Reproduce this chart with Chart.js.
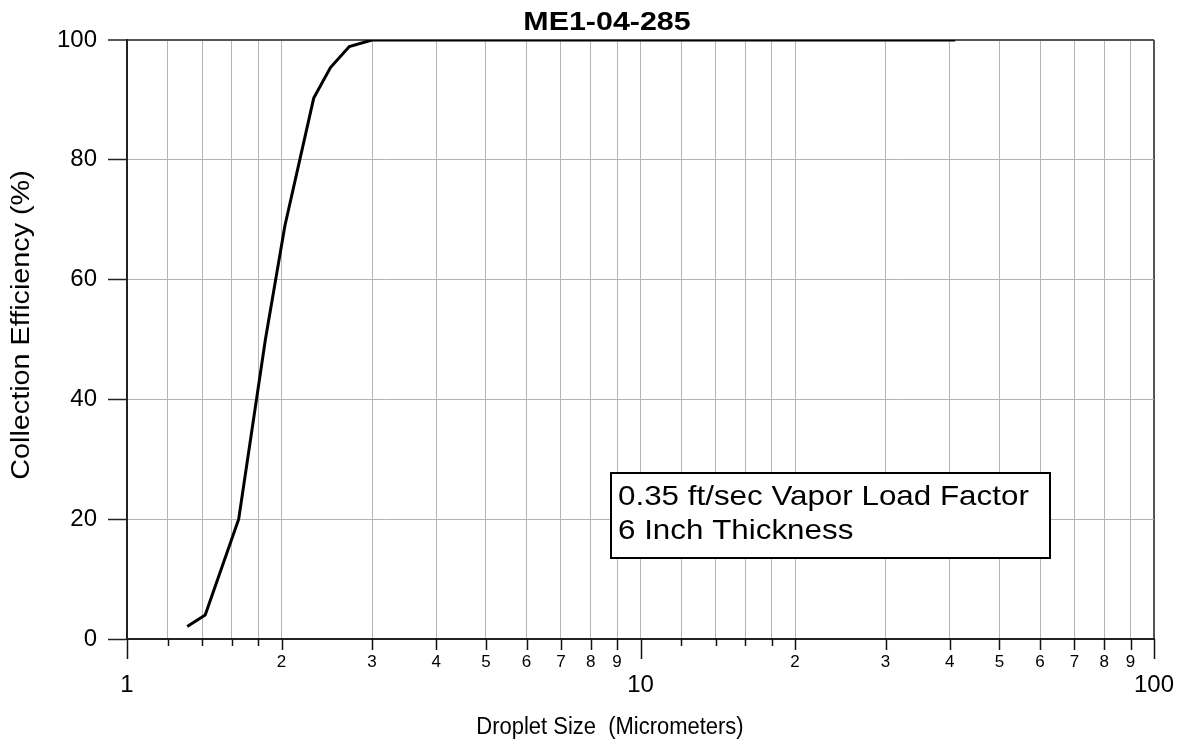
<!DOCTYPE html>
<html><head><meta charset="utf-8">
<script src="https://cdn.jsdelivr.net/npm/chart.js@4.4.1/dist/chart.umd.min.js"></script>
<style>html,body{margin:0;padding:0;background:#fff;} canvas{display:block;}</style>
</head><body>
<canvas id="c" width="1178" height="745"></canvas>
<script>
const chartTitle = 'ME1-04-285';
const xAxisTitle = 'Droplet Size  (Micrometers)';
const yAxisTitle = 'Collection Efficiency (%)';
const noteLines = ['0.35 ft/sec Vapor Load Factor', '6 Inch Thickness'];
const dropletSize = [1.31, 1.42, 1.65, 1.86, 2.03, 2.31, 2.49, 2.71, 3.0, 41];
const efficiency = [2.1, 4.0, 20, 50, 69, 90.3, 95.4, 98.9, 100, 100];
const xTickValues = [1,1.2,1.4,1.6,1.8,2,3,4,5,6,7,8,9,10,12,14,16,18,20,30,40,50,60,70,80,90,100];
const xTickLabels = ['1','','','','','2','3','4','5','6','7','8','9','10','','','','','2','3','4','5','6','7','8','9','100'];
const xMajorTicks = [1,10,100];
const yMin = 0, yMax = 100, yStep = 20;

const FONT = '"Liberation Sans", Arial, Helvetica, sans-serif';
const near = (a,b) => Math.abs(a-b) < 1e-9;
const isMajor = v => xMajorTicks.some(m => near(m, v));
const labelFor = v => { const i = xTickValues.findIndex(t => near(t, v)); return i >= 0 ? xTickLabels[i] : ''; };

function drawText(ctx, text, x, y, font, sx, rot) {
  ctx.save();
  ctx.translate(x, y);
  if (rot) ctx.rotate(rot);
  ctx.scale(sx, 1);
  ctx.font = font;
  ctx.fillStyle = '#000';
  ctx.textAlign = 'center';
  ctx.textBaseline = 'middle';
  ctx.fillText(text, 0, 0);
  ctx.restore();
}

const decor = {
  id: 'decor',
  afterDatasetsDraw(chart) {
    const {ctx, chartArea: a} = chart;
    const bx = a.left + 484, by = a.top + 433, bw = 439, bh = 85;
    ctx.save();
    ctx.fillStyle = '#fff';
    ctx.fillRect(bx, by, bw, bh);
    ctx.strokeStyle = '#000';
    ctx.lineWidth = 2;
    ctx.strokeRect(bx, by, bw, bh);
    ctx.fillStyle = '#000';
    ctx.font = '28px ' + FONT;
    ctx.textAlign = 'left';
    ctx.textBaseline = 'middle';
    noteLines.forEach((t, i) => {
      ctx.save();
      ctx.translate(bx + 7, by + 24.5 + i * 33.5);
      ctx.scale(1.12, 1);
      ctx.fillText(t, 0, 0);
      ctx.restore();
    });
    ctx.restore();
  },
  afterDraw(chart) {
    const {ctx, chartArea: a} = chart;
    const xs = chart.scales.x;
    ctx.save();
    ctx.strokeStyle = '#111';
    ctx.lineWidth = 1.5;
    xs.ticks.forEach(t => {
      const px = Math.round(xs.getPixelForValue(t.value)) + 0.5;
      const len = isMajor(t.value) ? 20 : (labelFor(t.value) ? 11 : 7);
      ctx.beginPath();
      ctx.moveTo(px, a.bottom);
      ctx.lineTo(px, a.bottom + len);
      ctx.stroke();
    });
    ctx.restore();
    drawText(ctx, chartTitle, a.left + 480, a.top - 17, 'bold 26px ' + FONT, 1.17, 0);
    drawText(ctx, xAxisTitle, a.left + 483, a.bottom + 89, '23px ' + FONT, 0.955, 0);
    drawText(ctx, yAxisTitle, 22, a.top + 285, '25px ' + FONT, 1.15, -Math.PI / 2);
  }
};

new Chart(document.getElementById('c'), {
  type: 'line',
  data: {
    datasets: [{
      data: dropletSize.map((x, i) => ({x, y: efficiency[i]})),
      borderColor: '#000',
      borderWidth: 3,
      pointRadius: 0,
      tension: 0,
      fill: false
    }]
  },
  options: {
    responsive: false,
    devicePixelRatio: 1,
    animation: false,
    layout: {padding: {top: 40, right: 24, bottom: 0, left: 0}},
    plugins: {legend: {display: false}, tooltip: {enabled: false}, title: {display: false}},
    scales: {
      x: {
        type: 'logarithmic',
        position: 'bottom',
        min: 1, max: 100,
        afterBuildTicks: s => { s.ticks = xTickValues.map(v => ({value: v, major: isMajor(v)})); },
        afterFit: s => { s.height = 106; s.paddingLeft = 0; s.paddingRight = 0; },
        grid: {
          drawTicks: false,
          color: c => (c.tick && near(c.tick.value, 100)) ? '#555' : '#b4b4b4',
          lineWidth: c => (c.tick && near(c.tick.value, 100)) ? 2 : 1
        },
        border: {color: '#222', width: 2},
        ticks: {
          autoSkip: false, maxRotation: 0, minRotation: 0,
          padding: 13,
          color: '#000',
          font: c => (c.tick && isMajor(c.tick.value))
            ? {family: FONT, size: 24, lineHeight: '22px'}
            : {family: FONT, size: 17, lineHeight: 1.2},
          callback: (value) => isMajor(value) ? ['', labelFor(value)] : labelFor(value)
        }
      },
      y: {
        type: 'linear',
        min: yMin, max: yMax,
        afterFit: s => { s.width = 127; s.paddingTop = 0; s.paddingBottom = 0; },
        grid: {
          color: c => (c.tick && c.tick.value === yMax) ? '#555' : '#b4b4b4',
          lineWidth: c => (c.tick && c.tick.value === yMax) ? 2 : 1,
          tickColor: '#222',
          tickLength: 19,
          tickWidth: 1.5
        },
        border: {color: '#222', width: 2},
        ticks: {stepSize: yStep, padding: 11, color: '#000', font: {family: FONT, size: 24}}
      }
    }
  },
  plugins: [decor]
});
</script>
</body></html>
